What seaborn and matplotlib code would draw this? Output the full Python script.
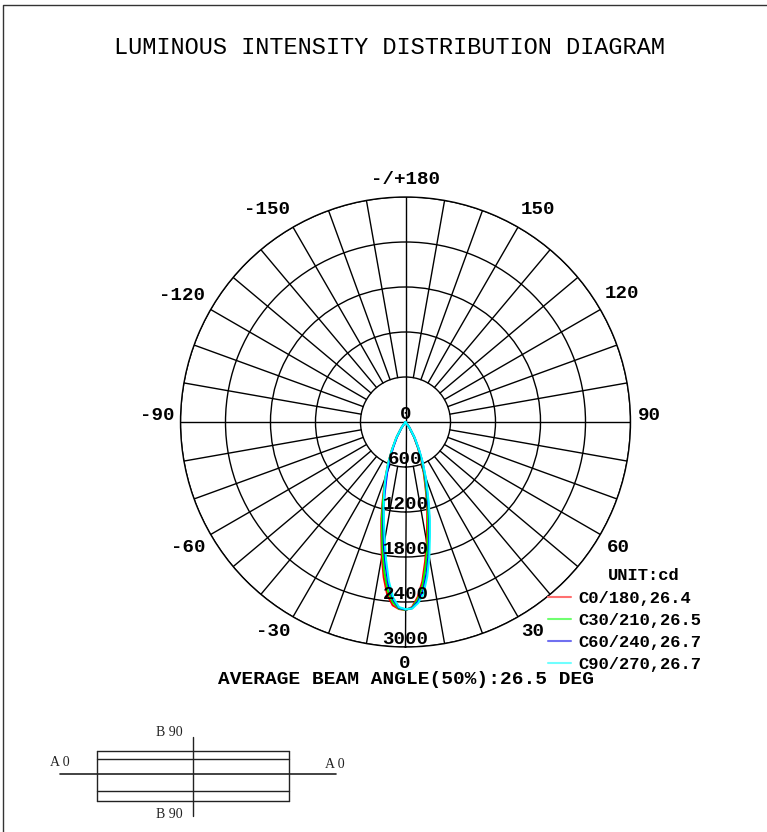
# Luminous intensity distribution diagram
import numpy as np
import pandas as pd
import seaborn as sns
import matplotlib.pyplot as plt

# half angles of the beam (deg)
half_angles = [0, 2, 4, 6, 8, 10, 12, 14, 16, 18, 20, 23, 26, 30, 35, 40]

# intensity (cd) on the negative and positive side of each C plane
c0_neg = [2507, 2495, 2450, 2320, 2090, 1820, 1550, 1330, 1110, 925, 780, 585, 410, 245, 92, 0]
c0_pos = [2507, 2470, 2340, 2140, 1880, 1630, 1390, 1200, 1005, 835, 705, 530, 372, 223, 84, 0]
c30_neg = [2505, 2490, 2410, 2260, 2020, 1760, 1500, 1290, 1080, 900, 760, 570, 400, 240, 90, 0]
c30_pos = [2505, 2480, 2370, 2190, 1940, 1690, 1445, 1240, 1035, 865, 730, 547, 385, 230, 86, 0]
c60_neg = [2500, 2480, 2370, 2180, 1920, 1660, 1420, 1215, 1015, 845, 715, 535, 376, 226, 85, 0]
c60_pos = [2500, 2485, 2400, 2260, 2030, 1780, 1520, 1305, 1090, 910, 768, 576, 404, 242, 91, 0]
c90_neg = [2495, 2470, 2350, 2130, 1860, 1600, 1380, 1200, 1040, 900, 770, 580, 410, 250, 94, 0]
c90_pos = [2495, 2490, 2420, 2300, 2080, 1830, 1560, 1340, 1125, 935, 790, 592, 416, 250, 94, 0]

plane_names = ['C0/180,26.4', 'C30/210,26.5', 'C60/240,26.7', 'C90/270,26.7']
plane_neg = [c0_neg, c30_neg, c60_neg, c90_neg]
plane_pos = [c0_pos, c30_pos, c60_pos, c90_pos]
plane_colors = ['#ff0000', '#00ff00', '#0000ff', '#00ffff']
legend_colors = ['#ff7070', '#70ff70', '#7070f0', '#70ffff']

# grid and labels
ring_values = [600, 1200, 1800, 2400, 3000]
ring_labels = ['0', '600', '1200', '1800', '2400', '3000']
angle_labels = ['0', '30', '60', '90', '120', '150', '-/+180', '-150', '-120', '-90', '-60', '-30']
label_x = [405, 533, 618, 649, 622, 538, 405, 267, 182, 157, 188, 273]
label_y = [663, 632, 547, 416, 294, 210, 179, 210, 295, 416, 547, 632]

sns.set_style('white')
plt.rcParams['font.family'] = ['Liberation Mono', 'DejaVu Sans Mono']
plt.rcParams['text.color'] = 'black'

W, H = 767, 832
fig = plt.figure(figsize=(W / 100, H / 100), dpi=100)
ax = fig.add_axes([180.5 / W, (H - 647) / H, 450 / W, 450 / H], projection='polar')
ax.set_theta_zero_location('S')
ax.set_theta_direction(1)
ax.set_rlim(0, 3000)
ax.set_xticks([])
ax.set_yticks(ring_values)
ax.set_yticklabels([])
ax.xaxis.grid(False)
ax.yaxis.grid(True, color='black', lw=1)
for spine in ax.spines.values():
    spine.set_color('black')
    spine.set_linewidth(1)

# spokes every 10 deg start at the first ring, main axes run to the centre
for a in range(0, 360, 10):
    start = 0 if a % 90 == 0 else 600
    ax.plot(np.radians([a, a]), [start, 3000], color='black', lw=1, zorder=1)

rows = []
for name, neg, pos in zip(plane_names, plane_neg, plane_pos):
    for a, v in zip(half_angles[::-1], neg[::-1]):
        rows.append({'plane': name, 'theta': np.radians(-a), 'cd': v})
    for a, v in zip(half_angles[1:], pos[1:]):
        rows.append({'plane': name, 'theta': np.radians(a), 'cd': v})
df = pd.DataFrame(rows)

sns.lineplot(data=df, x='theta', y='cd', hue='plane', palette=plane_colors, hue_order=plane_names,
             estimator=None, sort=False, lw=1.5, ax=ax, legend=False, zorder=3)
ax.set_xlabel('')
ax.set_ylabel('')
ax.set_rlim(0, 3000)

# intensity labels sit just above their ring
for v, lab in zip([0] + ring_values, ring_labels):
    ax.annotate(lab, xy=(0, v), xytext=(0, 5.5), textcoords='offset points', ha='center', va='center',
                fontsize=13.8, fontweight='bold', annotation_clip=False, zorder=5)

# overlay in pixel coordinates for the frame, texts and the small lamp sketch
ov = fig.add_axes([0, 0, 1, 1])
ov.set_xlim(0, W)
ov.set_ylim(H, 0)
ov.axis('off')
ov.plot([3, 3, W], [H, 5, 5], color='#333333', lw=1)
ov.text(389, 47, 'LUMINOUS INTENSITY DISTRIBUTION DIAGRAM', ha='center', va='center', fontsize=17)
ov.text(405.5, 680, 'AVERAGE BEAM ANGLE(50%):26.5 DEG', ha='center', va='center', fontsize=14, fontweight='bold')
ov.text(644, 576, 'UNIT:cd', ha='center', va='center', fontsize=12.3, fontweight='bold')

# angle labels round the circle
for x, y, lab in zip(label_x, label_y, angle_labels):
    ov.text(x, y, lab, ha='center', va='center', fontsize=13.8, fontweight='bold')

handles = [plt.Line2D([], [], color=c, lw=1.5) for c in legend_colors]
ov.legend(handles, plane_names, loc='upper left', bbox_to_anchor=(548 / W, (H - 591) / H),
          bbox_transform=fig.transFigure, frameon=False, handlelength=1.35,
          handletextpad=0.4, labelspacing=0.41, borderpad=0, borderaxespad=0,
          prop={'size': 12.3, 'weight': 'bold'})

# lamp sketch
lamp_x = [97, 289]
lamp_y = [751, 759, 791, 801]
for y in lamp_y:
    ov.plot(lamp_x, [y, y], color='#222222', lw=1)
for x in lamp_x:
    ov.plot([x, x], [lamp_y[0], lamp_y[-1]], color='#222222', lw=1)
ov.plot([60, 336], [774, 774], color='#222222', lw=1.2)
ov.plot([193, 193], [737, 816], color='#222222', lw=1)
for x, y, lab in [(169, 732, 'B 90'), (169, 814, 'B 90'), (60, 763, 'A 0'), (335, 765, 'A 0')]:
    ov.text(x, y, lab, ha='center', va='center', fontsize=10, color='#222222', family='Liberation Serif')

fig.savefig('out.png', dpi=100)
